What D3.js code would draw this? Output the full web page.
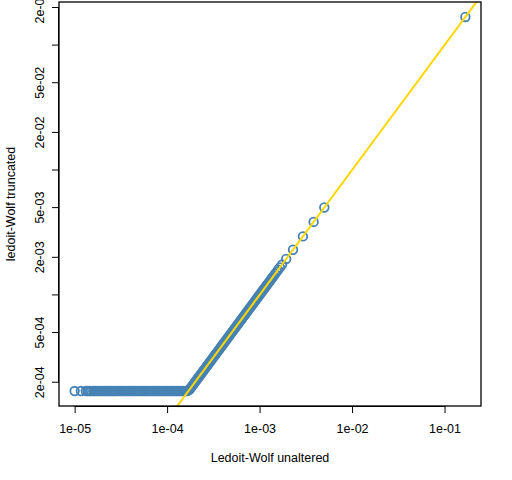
<!DOCTYPE html>
<html>
<head>
<meta charset="utf-8">
<script src="https://cdn.jsdelivr.net/npm/d3@7"></script>
<style>
  body { margin: 0; background: #fff; }
  svg { display: block; }
  text { font-family: "Liberation Sans", Arial, sans-serif; fill: #000; }
</style>
</head>
<body>
<svg id="chart" width="512" height="480"></svg>
<script>
// Ledoit-Wolf variance estimates: unaltered vs truncated (log-log)
const unaltered = [
  1.00e-5, 1.17e-5, 1.32e-5, 1.38e-5, 1.45e-5, 1.51e-5, 1.59e-5, 1.66e-5, 1.74e-5, 1.82e-5,
  1.91e-5, 2.00e-5, 2.09e-5, 2.19e-5, 2.29e-5, 2.40e-5, 2.51e-5, 2.63e-5, 2.75e-5, 2.88e-5,
  3.02e-5, 3.16e-5, 3.31e-5, 3.47e-5, 3.63e-5, 3.80e-5, 3.98e-5, 4.17e-5, 4.37e-5, 4.57e-5,
  4.79e-5, 5.01e-5, 5.25e-5, 5.50e-5, 5.75e-5, 6.03e-5, 6.31e-5, 6.61e-5, 6.92e-5, 7.24e-5,
  7.59e-5, 7.94e-5, 8.32e-5, 8.71e-5, 9.12e-5, 9.55e-5, 1.00e-4, 1.05e-4, 1.10e-4, 1.15e-4,
  1.20e-4, 1.26e-4, 1.32e-4, 1.38e-4, 1.45e-4, 1.51e-4, 1.59e-4, 1.66e-4,
  1.74e-4, 1.78e-4, 1.82e-4, 1.86e-4, 1.91e-4, 1.95e-4, 2.00e-4, 2.04e-4, 2.09e-4, 2.14e-4,
  2.19e-4, 2.24e-4, 2.29e-4, 2.34e-4, 2.40e-4, 2.46e-4, 2.51e-4, 2.57e-4, 2.63e-4, 2.69e-4,
  2.75e-4, 2.82e-4, 2.88e-4, 2.95e-4, 3.02e-4, 3.09e-4, 3.16e-4, 3.24e-4, 3.31e-4, 3.39e-4,
  3.47e-4, 3.55e-4, 3.63e-4, 3.72e-4, 3.80e-4, 3.89e-4, 3.98e-4, 4.07e-4, 4.17e-4, 4.27e-4,
  4.37e-4, 4.47e-4, 4.57e-4, 4.68e-4, 4.79e-4, 4.90e-4, 5.01e-4, 5.13e-4, 5.25e-4, 5.37e-4,
  5.50e-4, 5.62e-4, 5.75e-4, 5.89e-4, 6.03e-4, 6.17e-4, 6.31e-4, 6.46e-4, 6.61e-4, 6.76e-4,
  6.92e-4, 7.08e-4, 7.24e-4, 7.41e-4, 7.59e-4, 7.76e-4, 7.94e-4, 8.13e-4, 8.32e-4, 8.51e-4,
  8.71e-4, 8.91e-4, 9.12e-4, 9.33e-4, 9.55e-4, 9.77e-4, 1.00e-3, 1.02e-3, 1.05e-3, 1.07e-3,
  1.10e-3, 1.12e-3, 1.15e-3, 1.18e-3, 1.20e-3, 1.23e-3, 1.26e-3, 1.29e-3, 1.32e-3, 1.35e-3,
  1.38e-3, 1.42e-3, 1.47e-3, 1.53e-3, 1.59e-3, 1.66e-3, 1.75e-3, 1.94e-3, 2.30e-3, 2.94e-3,
  3.84e-3, 5.01e-3, 1.68e-1
];
const truncated = [
  1.70e-4, 1.70e-4, 1.70e-4, 1.70e-4, 1.70e-4, 1.70e-4, 1.70e-4, 1.70e-4, 1.70e-4, 1.70e-4,
  1.70e-4, 1.70e-4, 1.70e-4, 1.70e-4, 1.70e-4, 1.70e-4, 1.70e-4, 1.70e-4, 1.70e-4, 1.70e-4,
  1.70e-4, 1.70e-4, 1.70e-4, 1.70e-4, 1.70e-4, 1.70e-4, 1.70e-4, 1.70e-4, 1.70e-4, 1.70e-4,
  1.70e-4, 1.70e-4, 1.70e-4, 1.70e-4, 1.70e-4, 1.70e-4, 1.70e-4, 1.70e-4, 1.70e-4, 1.70e-4,
  1.70e-4, 1.70e-4, 1.70e-4, 1.70e-4, 1.70e-4, 1.70e-4, 1.70e-4, 1.70e-4, 1.70e-4, 1.70e-4,
  1.70e-4, 1.70e-4, 1.70e-4, 1.70e-4, 1.70e-4, 1.70e-4, 1.70e-4, 1.70e-4,
  1.74e-4, 1.78e-4, 1.82e-4, 1.86e-4, 1.91e-4, 1.95e-4, 2.00e-4, 2.04e-4, 2.09e-4, 2.14e-4,
  2.19e-4, 2.24e-4, 2.29e-4, 2.34e-4, 2.40e-4, 2.46e-4, 2.51e-4, 2.57e-4, 2.63e-4, 2.69e-4,
  2.75e-4, 2.82e-4, 2.88e-4, 2.95e-4, 3.02e-4, 3.09e-4, 3.16e-4, 3.24e-4, 3.31e-4, 3.39e-4,
  3.47e-4, 3.55e-4, 3.63e-4, 3.72e-4, 3.80e-4, 3.89e-4, 3.98e-4, 4.07e-4, 4.17e-4, 4.27e-4,
  4.37e-4, 4.47e-4, 4.57e-4, 4.68e-4, 4.79e-4, 4.90e-4, 5.01e-4, 5.13e-4, 5.25e-4, 5.37e-4,
  5.50e-4, 5.62e-4, 5.75e-4, 5.89e-4, 6.03e-4, 6.17e-4, 6.31e-4, 6.46e-4, 6.61e-4, 6.76e-4,
  6.92e-4, 7.08e-4, 7.24e-4, 7.41e-4, 7.59e-4, 7.76e-4, 7.94e-4, 8.13e-4, 8.32e-4, 8.51e-4,
  8.71e-4, 8.91e-4, 9.12e-4, 9.33e-4, 9.55e-4, 9.77e-4, 1.00e-3, 1.02e-3, 1.05e-3, 1.07e-3,
  1.10e-3, 1.12e-3, 1.15e-3, 1.18e-3, 1.20e-3, 1.23e-3, 1.26e-3, 1.29e-3, 1.32e-3, 1.35e-3,
  1.38e-3, 1.42e-3, 1.47e-3, 1.53e-3, 1.59e-3, 1.66e-3, 1.75e-3, 1.94e-3, 2.30e-3, 2.94e-3,
  3.84e-3, 5.01e-3, 1.68e-1
];

// axis ticks (R style log axis)
const xTicks = [1e-5, 1e-4, 1e-3, 1e-2, 1e-1];
const xTickLabels = ['1e-05', '1e-04', '1e-03', '1e-02', '1e-01'];
const yTicks = [2e-4, 5e-4, 1e-3, 2e-3, 5e-3, 1e-2, 2e-2, 5e-2, 1e-1, 2e-1];
const yTickLabels = ['2e-04', '5e-04', '', '2e-03', '5e-03', '', '2e-02', '5e-02', '', '2e-01'];

const xTitle = 'Ledoit-Wolf unaltered';
const yTitle = 'ledoit-Wolf truncated';

const plot = { left: 59, right: 481, top: 2, bottom: 406 };

// R pads the data range by 4% on each side
function paddedLogDomain(values) {
    const lo = Math.log10(d3.min(values));
    const hi = Math.log10(d3.max(values));
    const pad = (hi - lo) * 0.04;
    return [Math.pow(10, lo - pad), Math.pow(10, hi + pad)];
}

const x = d3.scaleLog().domain(paddedLogDomain(unaltered)).range([plot.left, plot.right]);
const y = d3.scaleLog().domain(paddedLogDomain(truncated)).range([plot.bottom, plot.top]);

const svg = d3.select('#chart');

svg.append('defs').append('clipPath').attr('id', 'plot-clip')
    .append('rect')
    .attr('x', plot.left).attr('y', plot.top)
    .attr('width', plot.right - plot.left).attr('height', plot.bottom - plot.top);

const points = unaltered.map((u, i) => ({ u: u, t: truncated[i] }));

// points
svg.append('g')
    .attr('clip-path', 'url(#plot-clip)')
    .selectAll('circle')
    .data(points)
    .enter()
    .append('circle')
    .attr('cx', d => x(d.u))
    .attr('cy', d => y(d.t))
    .attr('r', 4.3)
    .attr('fill', 'none')
    .attr('stroke', 'steelblue')
    .attr('stroke-width', 1.8);

// y = x reference line
const lineEnds = [1e-6, 1];
svg.append('line')
    .attr('clip-path', 'url(#plot-clip)')
    .attr('x1', x(lineEnds[0])).attr('y1', y(lineEnds[0]))
    .attr('x2', x(lineEnds[1])).attr('y2', y(lineEnds[1]))
    .attr('stroke', 'gold')
    .attr('stroke-width', 2);

// box
svg.append('rect')
    .attr('x', plot.left).attr('y', plot.top)
    .attr('width', plot.right - plot.left).attr('height', plot.bottom - plot.top)
    .attr('fill', 'none')
    .attr('stroke', '#000')
    .attr('stroke-width', 1.3);

// x axis
const xAxis = d3.axisBottom(x)
    .tickValues(xTicks)
    .tickFormat((d, i) => xTickLabels[i])
    .tickSizeInner(7)
    .tickSizeOuter(0)
    .tickPadding(11);
const gx = svg.append('g')
    .attr('transform', `translate(0,${plot.bottom})`)
    .call(xAxis);
gx.select('.domain').attr('d', `M${x(xTicks[0])},0.5H${x(xTicks[xTicks.length - 1])}`);
gx.selectAll('text').attr('font-size', 12.5).attr('font-family', '"Liberation Sans", Arial, sans-serif');

// y axis
const yAxis = d3.axisLeft(y)
    .tickValues(yTicks)
    .tickFormat((d, i) => yTickLabels[i])
    .tickSizeInner(7)
    .tickSizeOuter(0);
const gy = svg.append('g')
    .attr('transform', `translate(${plot.left},0)`)
    .call(yAxis);
gy.select('.domain').attr('d', `M-0.5,${y(yTicks[0])}V${y(yTicks[yTicks.length - 1])}`);
gy.selectAll('text')
    .attr('font-size', 12.5)
    .attr('font-family', '"Liberation Sans", Arial, sans-serif')
    .attr('text-anchor', 'middle')
    .attr('dy', 0)
    .attr('x', 0)
    .attr('transform', d => `translate(-15.5,${y(d)}) rotate(-90)`)
    .attr('y', 0);
// axisLeft positions tick groups; reset group transform so text transform is absolute
gy.selectAll('.tick').each(function(d) {
    const tick = d3.select(this);
    tick.attr('transform', null);
    tick.select('line').attr('y1', y(d)).attr('y2', y(d));
});

svg.append('g').selectAll('path.domain').remove();

// axis titles
svg.append('text')
    .attr('x', (plot.left + plot.right) / 2)
    .attr('y', 462)
    .attr('text-anchor', 'middle')
    .attr('font-size', 12.5)
    .text(xTitle);

svg.append('text')
    .attr('transform', `translate(14.5,${(plot.top + plot.bottom) / 2}) rotate(-90)`)
    .attr('text-anchor', 'middle')
    .attr('font-size', 12.5)
    .text(yTitle);
</script>
</body>
</html>
